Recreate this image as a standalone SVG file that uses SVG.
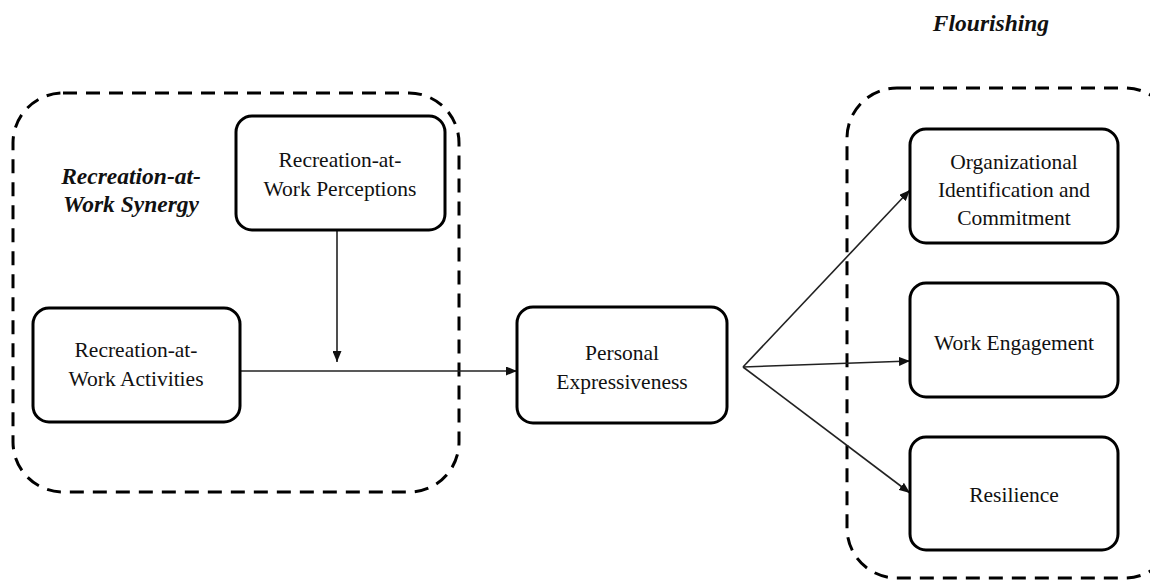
<svg xmlns="http://www.w3.org/2000/svg" width="1150" height="585" viewBox="0 0 1150 585">
<style>
.box{fill:#fff;stroke:#000;stroke-width:3}
.group{fill:none;stroke:#000;stroke-width:3;stroke-dasharray:14 9}
.t{font-family:"Liberation Serif","Times New Roman",serif;font-size:21.5px;fill:#111;text-anchor:middle}
.lbl{font-family:"Liberation Serif","Times New Roman",serif;font-size:23.5px;font-weight:bold;font-style:italic;fill:#111;text-anchor:middle}
.c{fill:none;stroke:#222;stroke-width:1.6}
</style>
<defs>
<marker id="ah" markerWidth="11" markerHeight="9" refX="11" refY="4.5" orient="auto" markerUnits="userSpaceOnUse">
<path d="M0,0 L11,4.5 L0,9 Z" fill="#111"/>
</marker>
</defs>
<rect width="1150" height="585" fill="#fff"/>
<g id="synergy-group">
<rect class="group" x="13" y="93" width="446" height="399" rx="50" ry="50"/>
<text class="lbl" x="131" y="184">Recreation-at-</text>
<text class="lbl" x="131" y="212">Work Synergy</text>
</g>
<g id="flourishing-group">
<rect class="group" x="847" y="88" width="328" height="490" rx="50" ry="50"/>
<text class="lbl" x="991" y="31">Flourishing</text>
</g>
<g id="connectors">
<line class="c" x1="337" y1="230" x2="337" y2="362" marker-end="url(#ah)"/>
<line class="c" x1="240" y1="371" x2="517" y2="371" marker-end="url(#ah)"/>
<line class="c" x1="743" y1="367" x2="910" y2="190" marker-end="url(#ah)"/>
<line class="c" x1="743" y1="367" x2="910" y2="361" marker-end="url(#ah)"/>
<line class="c" x1="743" y1="367" x2="910" y2="493" marker-end="url(#ah)"/>
</g>
<g id="perceptions">
<rect class="box" x="236" y="116" width="209" height="114" rx="16" ry="16"/>
<text class="t" x="340" y="167">Recreation-at-</text>
<text class="t" x="340" y="196">Work Perceptions</text>
</g>
<g id="activities">
<rect class="box" x="33" y="308" width="207" height="114" rx="16" ry="16"/>
<text class="t" x="136" y="357">Recreation-at-</text>
<text class="t" x="136" y="386">Work Activities</text>
</g>
<g id="personal">
<rect class="box" x="517" y="307" width="210" height="116" rx="16" ry="16"/>
<text class="t" x="622" y="360">Personal</text>
<text class="t" x="622" y="389">Expressiveness</text>
</g>
<g id="organizational">
<rect class="box" x="910" y="129" width="208" height="114" rx="16" ry="16"/>
<text class="t" x="1014" y="169">Organizational</text>
<text class="t" x="1014" y="197">Identification and</text>
<text class="t" x="1014" y="225">Commitment</text>
</g>
<g id="engagement">
<rect class="box" x="910" y="283" width="208" height="114" rx="16" ry="16"/>
<text class="t" x="1014" y="350">Work Engagement</text>
</g>
<g id="resilience">
<rect class="box" x="910" y="437" width="208" height="113" rx="16" ry="16"/>
<text class="t" x="1014" y="502">Resilience</text>
</g>
</svg>
